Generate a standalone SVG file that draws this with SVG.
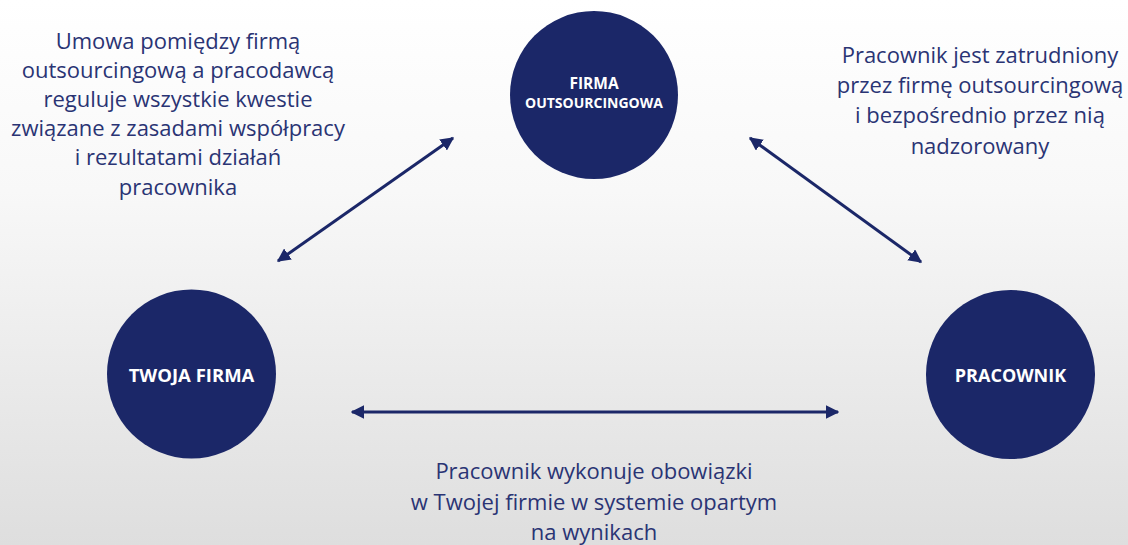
<svg xmlns="http://www.w3.org/2000/svg" width="1128" height="545" viewBox="0 0 1128 545">
<defs>
<linearGradient id="bg" x1="0" y1="0" x2="0" y2="1">
<stop offset="0" stop-color="#ffffff"/>
<stop offset="0.35" stop-color="#f8f8f8"/>
<stop offset="1" stop-color="#dedede"/>
</linearGradient>
<marker id="ah" viewBox="0 0 10 10" refX="9" refY="5" markerWidth="4.5" markerHeight="4.5" orient="auto-start-reverse" markerUnits="strokeWidth">
<path d="M0,0 L10,5 L0,10 Z" fill="#1b2768"/>
</marker>
<style>
.node circle{fill:#1b2768}
.lbl{font-family:"Open Sans","DejaVu Sans",sans-serif;font-weight:700;fill:#ffffff;text-anchor:middle}
.txt{font-family:"Open Sans","DejaVu Sans",sans-serif;font-size:22px;fill:#2a3474;text-anchor:middle}
.con line{stroke:#1b2768;stroke-width:3;marker-start:url(#ah);marker-end:url(#ah)}
</style>
</defs>
<rect width="1128" height="545" fill="url(#bg)"/>
<g id="node-firma-outsourcingowa" class="node">
<circle cx="594" cy="95" r="84"/>
<text class="lbl" x="594" y="89" font-size="15.5">FIRMA</text>
<text class="lbl" x="594" y="108" font-size="14">OUTSOURCINGOWA</text>
</g>
<g id="node-twoja-firma" class="node">
<circle cx="191.5" cy="374" r="84.5"/>
<text class="lbl" x="191.5" y="382" font-size="18.5">TWOJA FIRMA</text>
</g>
<g id="node-pracownik" class="node">
<circle cx="1010.5" cy="374.5" r="84.5"/>
<text class="lbl" x="1010.5" y="382" font-size="18">PRACOWNIK</text>
</g>
<g id="connectors" class="con">
<line x1="278" y1="261" x2="453" y2="138"/>
<line x1="750" y1="138" x2="921" y2="262"/>
<line x1="352" y1="412" x2="838" y2="412"/>
</g>
<g id="label-left">
<text class="txt" x="178" y="49">Umowa pomiędzy firmą</text>
<text class="txt" x="178" y="78">outsourcingową a pracodawcą</text>
<text class="txt" x="178" y="107">reguluje wszystkie kwestie</text>
<text class="txt" x="178" y="136">związane z zasadami współpracy</text>
<text class="txt" x="178" y="165">i rezultatami działań</text>
<text class="txt" x="178" y="195">pracownika</text>
</g>
<g id="label-right">
<text class="txt" x="980" y="63">Pracownik jest zatrudniony</text>
<text class="txt" x="980" y="93">przez firmę outsourcingową</text>
<text class="txt" x="980" y="123">i bezpośrednio przez nią</text>
<text class="txt" x="980" y="154">nadzorowany</text>
</g>
<g id="label-bottom">
<text class="txt" x="594" y="479">Pracownik wykonuje obowiązki</text>
<text class="txt" x="594" y="510">w Twojej firmie w systemie opartym</text>
<text class="txt" x="594" y="540">na wynikach</text>
</g>
</svg>
